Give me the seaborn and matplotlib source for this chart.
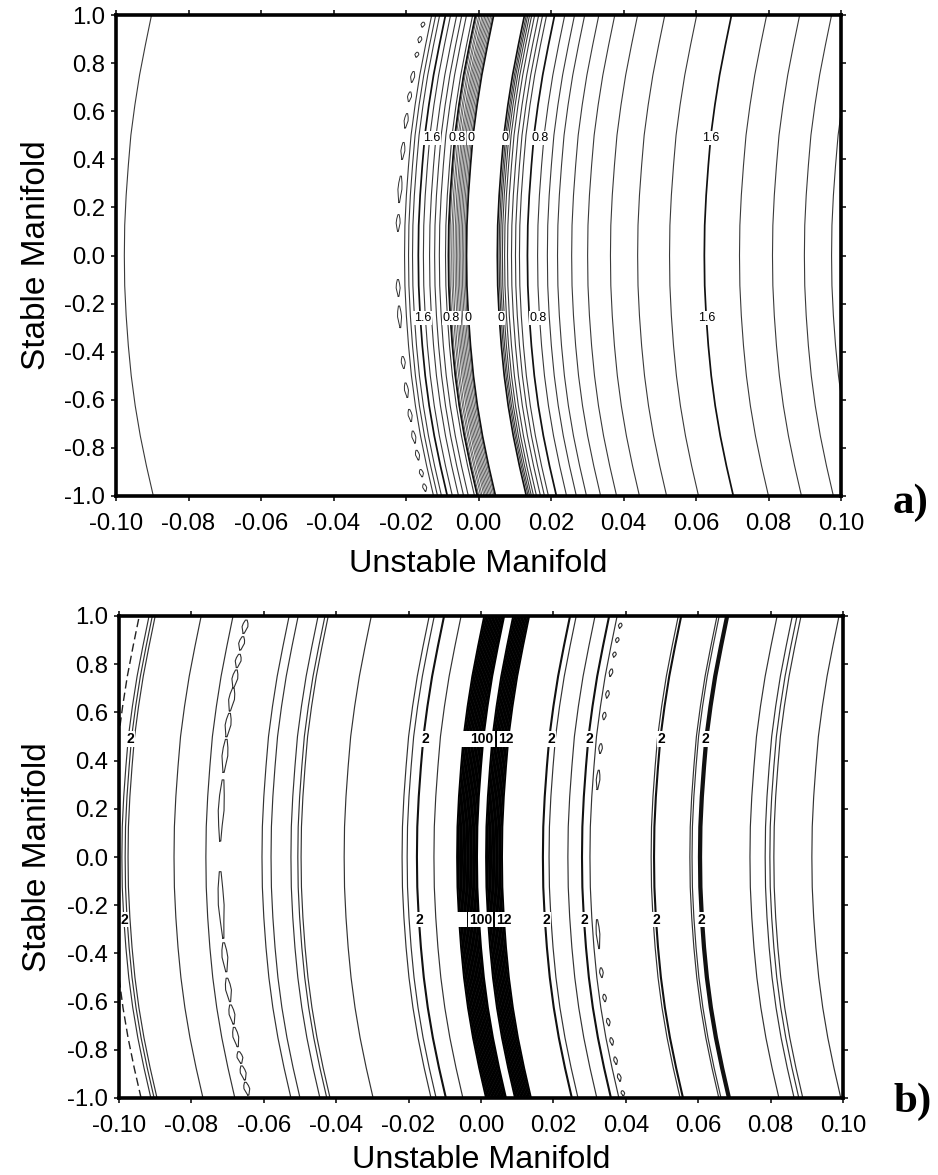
import numpy as np
import pandas as pd
import matplotlib
matplotlib.use("Agg")
import matplotlib.pyplot as plt
import seaborn as sns

# Shared shape of the contours (offset from each line's value at y = 0)
stable = [-1.0, -0.875, -0.75, -0.625, -0.5, -0.375, -0.25, -0.125, 0.0,
          0.125, 0.25, 0.375, 0.5, 0.625, 0.75, 0.875, 1.0]
bow = [0.0080, 0.0061, 0.0044, 0.0030, 0.0019, 0.0011, 0.0005, 0.0001, 0.0,
       0.0001, 0.0005, 0.0011, 0.0018, 0.0029, 0.0042, 0.0058, 0.0075]

# Panel a: unstable-manifold coordinate of each contour at y = 0
a_thin = [-0.0977, -0.0204, -0.0193, -0.0182, -0.0152, -0.0135, -0.0121, -0.0108, -0.0091,
          0.0057, 0.0061, 0.0066, 0.0072, 0.0080, 0.0091, 0.0102, 0.0113, 0.0163, 0.0190,
          0.0218, 0.0257, 0.0301, 0.0364, 0.0439, 0.0527, 0.0720, 0.0811, 0.0899, 0.0974]
a_dense = [-0.0083, -0.0079, -0.0074, -0.0070, -0.0065, -0.0061, -0.0057, -0.0053,
           -0.0049, -0.0045, -0.0041, -0.0037]
a_thick = [-0.0166, -0.0083, -0.0033, 0.0052, 0.0135, 0.0623]
a_loop_center = -0.0223
a_loops = [(0.95, 0.97), (0.885, 0.91), (0.825, 0.845), (0.72, 0.765), (0.64, 0.68),
           (0.53, 0.59), (0.40, 0.47), (0.22, 0.33), (0.10, 0.17), (-0.17, -0.10),
           (-0.30, -0.21), (-0.47, -0.42), (-0.59, -0.53), (-0.69, -0.64), (-0.78, -0.73),
           (-0.85, -0.81), (-0.92, -0.89), (-0.98, -0.95)]
a_labels = ["1.6", "0.8", "0", "0", "0.8", "1.6", "1.6", "0.8", "0", "0", "0.8", "1.6"]
a_label_x = [-0.0130, -0.0060, -0.0020, 0.0073, 0.0170, 0.0640,
             -0.0155, -0.0075, -0.0030, 0.0062, 0.0165, 0.0630]
a_label_y = [0.49, 0.49, 0.49, 0.49, 0.49, 0.49, -0.26, -0.26, -0.26, -0.26, -0.26, -0.26]

# Panel b
b_thin = [-0.0992, -0.0983, -0.0975, -0.0848, -0.0760, -0.0605, -0.0580, -0.0525, -0.0506,
          -0.0497, -0.0378, -0.0218, -0.0204, -0.0130, 0.0188, 0.0240, 0.0301, 0.0470,
          0.0577, 0.0583, 0.0743, 0.0785, 0.0798, 0.0809, 0.0914]
b_thick = [-0.0177, 0.0171, 0.0279, 0.0478, 0.0602, 0.0605, 0.0608]
b_band = [-0.0066, -0.0062, -0.0058, -0.0054, -0.0050, -0.0046, -0.0042, -0.0038, -0.0034,
          -0.0030, -0.0026, -0.0022, -0.0018, -0.0014, -0.0011,
          0.0014, 0.0018, 0.0022, 0.0026, 0.0030, 0.0034, 0.0038, 0.0042, 0.0046,
          0.0050, 0.0054, 0.0058]
b_dashed = [-0.1019]
b_loop_center = -0.0721
b_loops = [(0.928, 0.983), (0.859, 0.914), (0.786, 0.841), (0.703, 0.776), (0.606, 0.700),
           (0.499, 0.596), (0.351, 0.488), (0.066, 0.320), (-0.337, -0.061), (-0.476, -0.356),
           (-0.600, -0.503), (-0.693, -0.614), (-0.787, -0.707), (-0.856, -0.808),
           (-0.925, -0.867), (-0.988, -0.935)]
b_loop2_center = 0.0315
b_loops2 = [(0.95, 0.97), (0.89, 0.91), (0.83, 0.85), (0.75, 0.78), (0.66, 0.69), (0.57, 0.60),
            (0.43, 0.47), (0.28, 0.36), (-0.38, -0.26), (-0.50, -0.46), (-0.60, -0.57),
            (-0.70, -0.67), (-0.78, -0.75), (-0.86, -0.83), (-0.93, -0.90), (-0.99, -0.97)]
b_labels = ["2", "2", "", "100", "12", "2", "2", "2", "2",
            "2", "2", "", "100", "12", "2", "2", "2", "2"]
b_label_x = [-0.0970, -0.0155, -0.0042, 0.0003, 0.0068, 0.0195, 0.0300, 0.0498, 0.0620,
             -0.0985, -0.0170, -0.0052, -0.0002, 0.0062, 0.0180, 0.0285, 0.0485, 0.0608]
b_label_y = [0.49] * 9 + [-0.26] * 9

xticks = [-0.10, -0.08, -0.06, -0.04, -0.02, 0.00, 0.02, 0.04, 0.06, 0.08, 0.10]
yticks = [-1.0, -0.8, -0.6, -0.4, -0.2, 0.0, 0.2, 0.4, 0.6, 0.8, 1.0]

sns.set_theme(style="ticks")
plt.rcParams["font.family"] = ["Liberation Sans", "DejaVu Sans"]

W, H = 938, 1175
fig = plt.figure(figsize=(W / 100, H / 100), dpi=100)


def make_axes(left, right, top, bottom):
    return fig.add_axes([left / W, 1 - bottom / H, (right - left) / W, (bottom - top) / H])


def contours(ax, centers, lw, color, ls="-"):
    frame = pd.DataFrame(
        [(i, c + b, s) for i, c in enumerate(centers) for b, s in zip(bow, stable)],
        columns=["line", "u", "s"],
    )
    sns.lineplot(data=frame, x="u", y="s", units="line", estimator=None, sort=False,
                 color=color, linewidth=lw, linestyle=ls, ax=ax, legend=False)


def loops(ax, center, spans, width, lw):
    rows = []
    for i, (y0, y1) in enumerate(spans):
        ys = np.linspace(y0, y1, 5)
        xs = center + np.interp(ys, stable, bow)
        half = np.array([0.2, 0.6, 1.0, 0.8, 0.3]) * width / 2
        xx = np.r_[xs - half, (xs + half)[::-1], xs[0] - half[0]]
        yy = np.r_[ys, ys[::-1], ys[0]]
        rows += [(i, u, s) for u, s in zip(xx, yy)]
    frame = pd.DataFrame(rows, columns=["loop", "u", "s"])
    sns.lineplot(data=frame, x="u", y="s", units="loop", estimator=None, sort=False,
                 color="#303030", linewidth=lw, ax=ax, legend=False)


def finish(ax, labels, lx, ly, label_size, weight, xpad, ypad):
    for t, x, y in zip(labels, lx, ly):
        ax.text(x, y, t if t else "  ", ha="center", va="center", fontsize=label_size,
                fontweight=weight, color="black", zorder=6,
                bbox=dict(facecolor="white", edgecolor="none", pad=0.6))
    ax.set_xlim(-0.1, 0.1)
    ax.set_ylim(-1, 1)
    ax.set_xticks(xticks, [f"{v:.2f}" for v in xticks])
    ax.set_yticks(yticks, [f"{v:.1f}" for v in yticks])
    ax.tick_params(axis="both", which="both", direction="out", length=3.5, width=1.1,
                   top=True, right=True, labelsize=17.2, colors="black")
    ax.tick_params(axis="x", pad=9)
    ax.tick_params(axis="y", pad=4.5)
    ax.set_xlabel("Unstable Manifold", fontsize=23.2, labelpad=xpad, color="black")
    ax.set_ylabel("Stable Manifold", fontsize=24, labelpad=ypad, color="black")
    for sp in ax.spines.values():
        sp.set_linewidth(2.6)
        sp.set_color("black")
        sp.set_zorder(8)


ax_a = make_axes(116, 841, 15, 496)
contours(ax_a, a_thin, 0.8, "#3a3a3a")
contours(ax_a, a_dense, 0.65, "#555555")
contours(ax_a, a_thick, 1.25, "#111111")
loops(ax_a, a_loop_center, a_loops, 0.0011, 0.7)
finish(ax_a, a_labels, a_label_x, a_label_y, 9, "normal", 10, 8.5)

ax_b = make_axes(119, 843, 616, 1098)
contours(ax_b, b_thin, 0.85, "#333333")
contours(ax_b, b_thick, 1.5, "#111111")
contours(ax_b, b_band, 1.4, "black")
contours(ax_b, b_dashed, 1.0, "#222222", ls=(0, (6, 3)))
loops(ax_b, b_loop_center, b_loops, 0.0016, 0.8)
loops(ax_b, b_loop2_center, b_loops2, 0.0010, 0.8)
finish(ax_b, b_labels, b_label_x, b_label_y, 10, "bold", 5.5, 10)

fig.text(893 / W, 1 - 503 / H, "a)", family="Liberation Serif", fontweight="bold",
         fontsize=31, ha="left", va="center", color="black")
fig.text(893 / W, 1 - 1102 / H, "b)", family="Liberation Serif", fontweight="bold",
         fontsize=31, ha="left", va="center", color="black")

fig.savefig("out.png", dpi=100, facecolor="white")
